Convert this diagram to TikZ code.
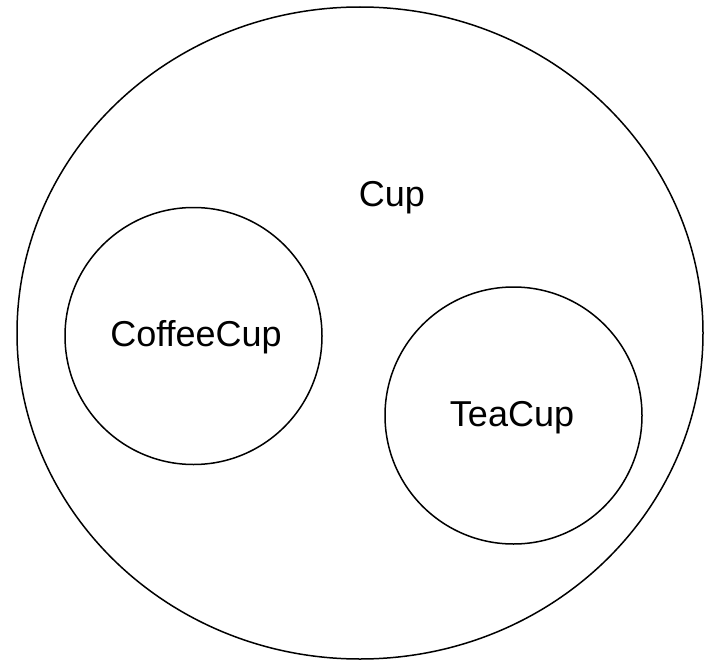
\documentclass[tikz,border=0pt]{standalone}
\usepackage{fontspec}
\setmainfont{Liberation Sans}
\usetikzlibrary{shapes.geometric}
\begin{document}
\begin{tikzpicture}[x=1pt,y=-1pt,
  setbox/.style={draw=black,line width=1.5pt,inner sep=0pt},
  lbl/.style={font=\fontsize{36}{40}\selectfont,text=black}]
\useasboundingbox (0,0) rectangle (707,661);
\node[setbox,ellipse,minimum width=686pt,minimum height=652pt] (cup) at (360,333) {};
\node[setbox,circle,minimum size=257pt] (coffee) at (193.5,336) {};
\node[setbox,circle,minimum size=257pt] (tea) at (513.5,415.5) {};
\node[lbl] (cuplbl) at (392,198) {Cup};
\node[lbl] (coffeelbl) at (196,337) {CoffeeCup};
\node[lbl] (tealbl) at (512,418) {TeaCup};
\end{tikzpicture}
\end{document}
